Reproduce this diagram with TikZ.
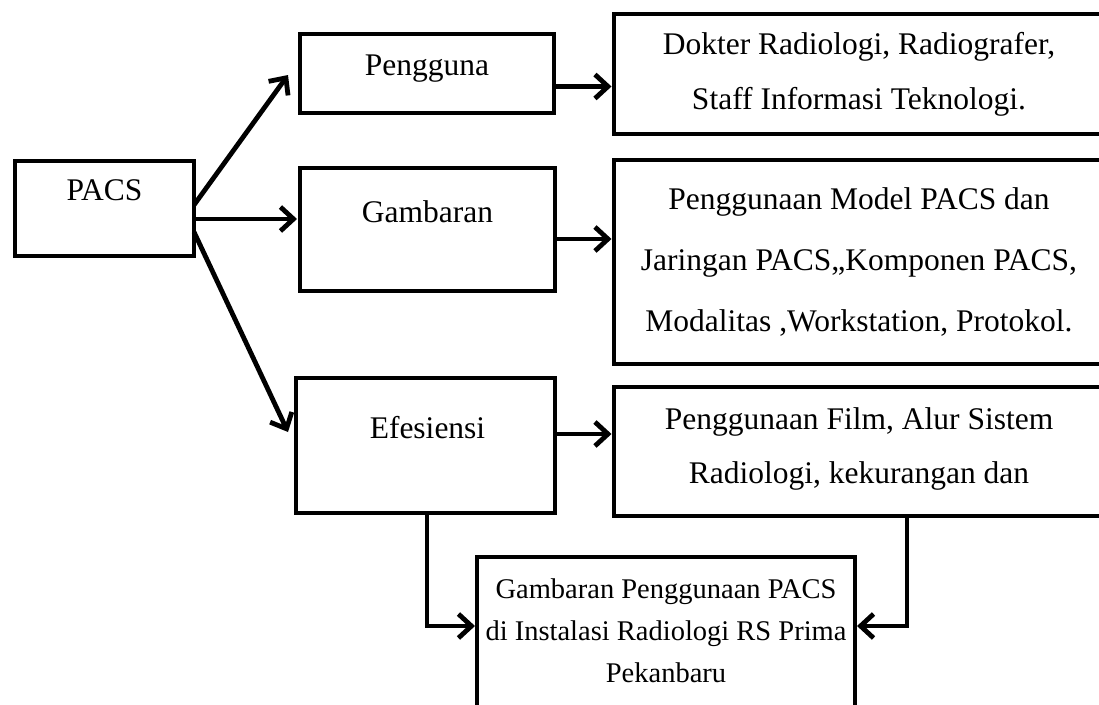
\documentclass[tikz,border=0pt]{standalone}
\usepackage{fontspec}
\setmainfont{Liberation Serif}
\usetikzlibrary{arrows.meta}
\begin{document}
\begin{tikzpicture}[x=1pt,y=-1pt,
  box/.style={draw, line width=4.5pt, inner sep=0pt, outer sep=0pt},
  lbl/.style={font=\fontsize{31.5}{38}\selectfont, inner sep=0pt, text height=0.66em, text depth=0pt},
  rbox/.style={box, align=center, minimum width=490pt},
  arr/.style={line width=4.8pt, -{Straight Barb[length=13pt,width=24pt,line width=4.8pt]}}]
\clip (0,0) rectangle (1099,704);
\fill[white] (0,0) rectangle (1099,704);
% left column
\node[box, minimum width=179pt, minimum height=95pt] (pacs) at (104.5,208.5) {};
\node[lbl] (pacsT) at ([yshift=11.5pt]pacs.center) {PACS};
\node[box, minimum width=254pt, minimum height=79pt] (peng) at (427,73.5) {};
\node[lbl] (pengT) at ([yshift=1.5pt]peng.center) {Pengguna};
\node[box, minimum width=255pt, minimum height=123pt] (gamb) at (427.5,229.5) {};
\node[lbl] (gambT) at ([yshift=10.5pt]gamb.center) {Gambaran};
\node[box, minimum width=259pt, minimum height=135pt] (efes) at (425.5,445.5) {};
\node[lbl] (efesT) at ([xshift=2pt,yshift=10pt]efes.center) {Efesiensi};
% right column
\node[rbox, minimum height=120pt, font=\fontsize{31.5}{55}\selectfont] (r1) at (859,74)
  {Dokter Radiologi, Radiografer,\\Staff Informasi Teknologi.};
\node[rbox, minimum height=204pt, font=\fontsize{31.5}{61}\selectfont] (r2) at (859,262)
  {Penggunaan Model PACS dan\\Jaringan PACS,,Komponen PACS,\\Modalitas ,Workstation, Protokol.};
\node[box, minimum width=490pt, minimum height=129pt] (r3) at (859,451.5) {};
\node[align=center, inner sep=0pt, font=\fontsize{31.5}{54}\selectfont] (r3T) at ([yshift=3pt]r3.center)
  {Penggunaan Film, Alur Sistem\\Radiologi, kekurangan dan};
% bottom
\node[box, minimum width=378pt, minimum height=160pt] (goal) at (666,637) {};
\node[align=center, inner sep=0pt, font=\fontsize{28.5}{42}\selectfont] (goalT) at (666,630.5)
  {Gambaran Penggunaan PACS\\di Instalasi Radiologi RS Prima\\Pekanbaru};
% connectors
\draw[arr] ([yshift=3.5pt]pacs.east) -- ([xshift=-12pt,yshift=-1.5pt]peng.west);
\draw[arr, shorten >=3pt] ([yshift=-10.5pt]pacs.east) -- ([yshift=10.5pt]gamb.west);
\draw[arr] ([yshift=-23.5pt]pacs.east) -- ([xshift=-8pt,yshift=13.5pt]efes.west);
\draw[arr, shorten >=2.5pt] ([yshift=-13pt]peng.east) -- ([yshift=-12.5pt]r1.west);
\draw[arr, shorten >=2.5pt] ([yshift=-9.5pt]gamb.east) -- ([yshift=23pt]r2.west);
\draw[arr, shorten >=2.5pt] ([yshift=11.5pt]efes.east) -- ([yshift=17.5pt]r3.west);
\draw[arr, shorten >=2pt] ([xshift=1.5pt]efes.south) |- ([yshift=11pt]goal.west);
\draw[arr, shorten >=2pt] ([xshift=48pt]r3.south) |- ([yshift=11pt]goal.east);
\end{tikzpicture}
\end{document}
